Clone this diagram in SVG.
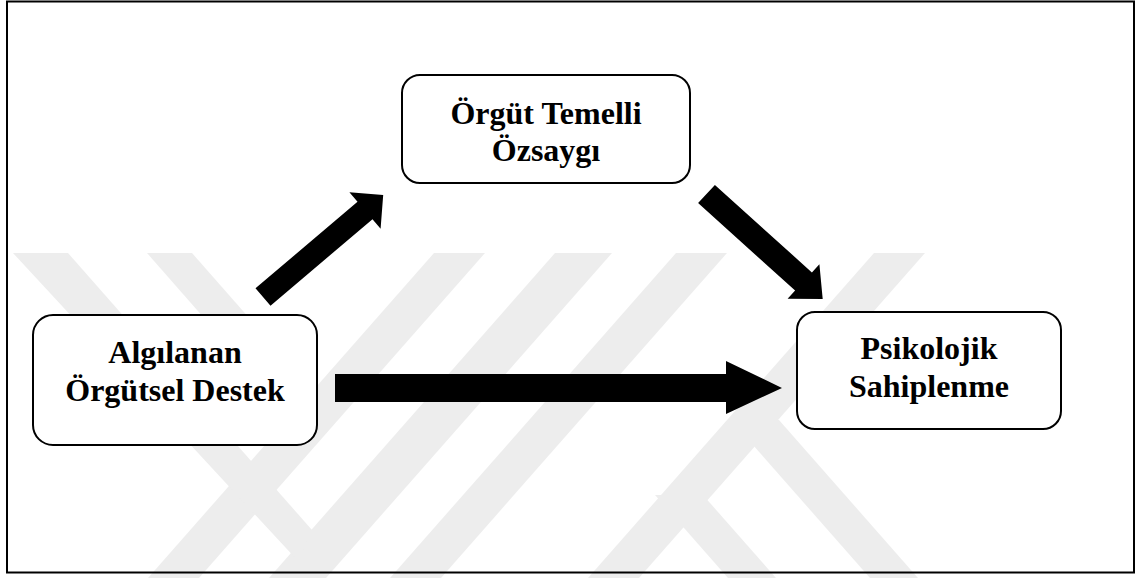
<svg xmlns="http://www.w3.org/2000/svg" width="1136" height="578" viewBox="0 0 1136 578">
<style>
.wm{fill:#ededed;stroke:none}
.box{fill:#ffffff;stroke:#000000;stroke-width:2}
.lbl{font-family:"Liberation Serif","Times New Roman",serif;font-weight:bold;font-size:32px;fill:#000000;text-anchor:middle}
.arr{fill:#000000;stroke:none}
</style>
<rect x="0" y="0" width="1136" height="578" fill="#ffffff"/>
<g id="watermark">
<polygon class="wm" points="434,253 485,253 199,578 148,578"/>
<polygon class="wm" points="555,253 612,253 326,578 269,578"/>
<polygon class="wm" points="13,253 68,253 312,530 298,561"/>
<polygon class="wm" points="147,253 192,253 313,390.5 290,416"/>
<polygon class="wm" points="676,253 727,253 441,578 390,578"/>
<polygon class="wm" points="874,253 925,253 639,578 588,578"/>
<polygon class="wm" points="731,420 779,420 918,578 870,578"/>
<polygon class="wm" points="655,495 703,495 776,578 728,578"/>
</g>
<rect x="7" y="1.5" width="1127" height="571" fill="none" stroke="#000000" stroke-width="2"/>
<g id="connectors">
<polygon class="arr" points="335,374 726,374 726,361 782,388 726,414 726,402 335,402"/>
<polygon class="arr" points="255.5,288.3 357.5,201.8 349.4,192.3 383.2,194.9 380.6,228.7 372.5,219.2 270.5,305.7"/>
<polygon class="arr" points="714.9,184.9 811.9,272.4 819.4,264.2 822.7,299.1 787.6,298.8 795.1,290.6 698.1,203.1"/>
</g>
<g id="node-ozsaygi">
<rect class="box" x="402" y="75" width="288" height="108" rx="18" ry="18"/>
<text class="lbl" x="546" y="123.5">Örgüt Temelli</text>
<text class="lbl" x="546" y="161">Özsaygı</text>
</g>
<g id="node-destek">
<rect class="box" x="33" y="315" width="284" height="130" rx="20" ry="20"/>
<text class="lbl" x="175" y="363">Algılanan</text>
<text class="lbl" x="175" y="401">Örgütsel Destek</text>
</g>
<g id="node-sahiplenme">
<rect class="box" x="797" y="312" width="264" height="117" rx="18" ry="18"/>
<text class="lbl" x="929" y="358.5">Psikolojik</text>
<text class="lbl" x="929" y="397">Sahiplenme</text>
</g>
</svg>
